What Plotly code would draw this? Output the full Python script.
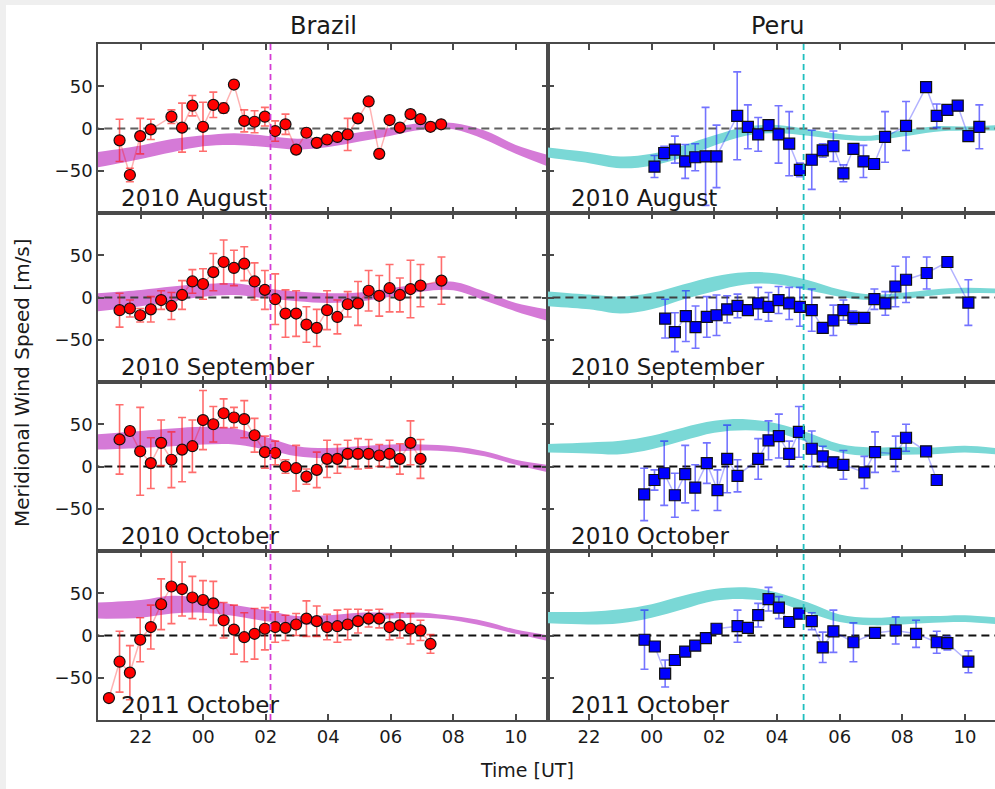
import plotly.graph_objects as go
from plotly.subplots import make_subplots

# ---------------------------------------------------------------------------
# Time axis (hours UT relative to 00 UT; 22 UT of the previous day -> -2)
hour_ticks = [-2, 0, 2, 4, 6, 8, 10]
hour_labels = ["22", "00", "02", "04", "06", "08", "10"]
value_ticks = [-50, 0, 50]
value_labels = ["\u221250", "0", "50"]

sites = ["Brazil", "Peru"]
campaigns = ["2010 August", "2010 September", "2010 October", "2011 October"]

# Local reference times marked with the vertical dashed lines
brazil_mark_time = 2.15
peru_mark_time = 4.85

# ---------------------------------------------------------------------------
# Model envelopes (upper / lower edge) sampled at band_t
band_t = [-3.4, -2, -1, 0, 1, 2, 3, 4, 5, 6, 7, 8, 9, 10, 11.1]

brazil_aug_hi = [-28, -20, -12.5, -8, -5.5, -8.5, -12, -9.5, -4.5, 1, 6.5, 6.5, -2.5, -19.5, -32]
brazil_aug_lo = [-46, -36, -28, -21, -19.5, -22, -25, -22, -15.5, -8.5, -1.5, -1, -13, -30, -46]
brazil_sep_hi = [5, 9, 13, 16, 17, 11, 7, 5, 6, 11, 16, 18.5, 7, -6.5, -14.5]
brazil_sep_lo = [-16.5, -10.5, -4.5, 1, 3, -1, -4.5, -6.5, -4.5, 1, 7, 8.5, -3.5, -16.5, -28.5]
brazil_oct_hi = [38, 42, 45, 47, 45, 35, 24, 22, 24, 26, 26, 24, 18, 8, 1.5]
brazil_oct_lo = [20, 22, 24, 26, 26, 20, 12, 10, 15, 17.5, 19, 17.5, 12, 2, -7.5]
brazil_oct11_hi = [39, 42, 47, 44, 36, 30, 23, 24, 27, 27, 27, 23, 17, 7, 0]
brazil_oct11_lo = [20, 21, 26, 27, 23, 17, 14, 13, 17, 20, 21, 18, 11, 2, -7]

peru_aug_hi = [-22, -28, -33, -30, -20, -8, 2.5, 4, -1, -6.5, -8.5, -2.5, 2.5, 2.5, 4]
peru_aug_lo = [-34, -41, -47, -44, -34, -20, -8.5, -5.5, -8.5, -13, -14.5, -9.5, -4, -2.5, -2.5]
peru_sep_hi = [7.5, 3.5, 1, 5.5, 15.5, 25, 30, 28.5, 20.5, 9.5, 3.5, 5.5, 9.5, 11.5, 10.5]
peru_sep_lo = [-10, -14, -19, -14, -2.5, 7.5, 15.5, 15.5, 8.5, 1, -3, -1.5, 2.5, 5, 5]
peru_oct_hi = [26.5, 28.5, 30.5, 36.5, 46, 54, 56, 51, 40, 26.5, 22.5, 23.5, 22.5, 24.5, 21.5]
peru_oct_lo = [16.5, 15.5, 14.5, 20.5, 30.5, 40, 43, 40, 28.5, 16.5, 12.5, 14, 14.5, 16.5, 14]
peru_oct11_hi = [28, 28, 31, 37, 47, 55, 57, 51, 39, 25, 21, 22.5, 23, 24, 21]
peru_oct11_lo = [14.5, 13, 14.5, 21, 31, 41, 43, 39, 27, 16, 12, 13, 15, 16, 13]

# ---------------------------------------------------------------------------
# Measured meridional winds: time [h], speed [m/s], uncertainty [m/s]
brazil_aug_t = [-2.68, -2.35, -2.02, -1.68, -1.02, -0.68, -0.35, -0.01, 0.32, 0.65, 0.98,
                1.31, 1.64, 1.97, 2.30, 2.63, 2.97, 3.30, 3.63, 3.96, 4.29, 4.62, 4.95,
                5.29, 5.63, 5.96, 6.29, 6.63, 6.95, 7.27, 7.61]
brazil_aug_v = [-14, -55, -9, -1, 14, 1, 27, 2, 28, 24, 52,
                9, 8, 14, -3, 5, -25, -5, -17, -13, -10, -7, 12,
                32, -30, 10, 1, 17, 11, 2, 5]
brazil_aug_e = [25, 8, 21, 12, 8, 29, 12, 29, 15, 6, 5,
                13, 13, 11, 12, 12, 5, 5, 5, 5, 5, 19, 5,
                5, 5, 5, 5, 5, 5, 5, 5]

peru_aug_t = [0.09, 0.40, 0.74, 1.07, 1.39, 1.72, 2.07, 2.73, 3.07, 3.40, 3.73, 4.05,
              4.39, 4.73, 5.11, 5.46, 5.80, 6.12, 6.44, 6.76, 7.10, 7.45, 8.12, 8.76,
              9.10, 9.44, 9.77, 10.11, 10.46]
peru_aug_v = [-45, -29, -25, -39, -34, -33, -33, 15, 2, -7, 4, -7,
              -18, -49, -37, -26, -21, -53, -24, -39, -42, -10, 3, 49,
              15, 22, 27, -9, 2]
peru_aug_e = [13, 8, 16, 20, 16, 58, 37, 52, 26, 20, 6, 34,
              38, 8, 35, 8, 18, 10, 6, 19, 6, 30, 29, 3,
              14, 4, 4, 4, 26]

brazil_sep_t = [-2.68, -2.35, -2.02, -1.68, -1.35, -1.02, -0.68, -0.35, -0.01, 0.32, 0.65,
                0.98, 1.31, 1.64, 1.97, 2.30, 2.63, 2.97, 3.30, 3.63, 3.96, 4.29, 4.62,
                4.95, 5.29, 5.63, 5.96, 6.29, 6.63, 6.95, 7.62]
brazil_sep_v = [-15, -13, -21, -14, -3, -10, 3, 19, 16, 30, 42,
                35, 40, 19, 9, -2, -19, -19, -32, -36, -15, -23, -8,
                -7, 8, 2, 11, 3, 10, 14, 20]
brazil_sep_e = [20, 10, 8, 15, 11, 16, 17, 14, 18, 22, 26,
                21, 20, 22, 23, 30, 28, 27, 21, 22, 23, 20, 15,
                26, 24, 24, 28, 20, 34, 25, 28]

peru_sep_t = [0.43, 0.74, 1.09, 1.40, 1.76, 2.07, 2.41, 2.74, 3.07, 3.40, 3.73, 4.05,
              4.39, 4.73, 5.11, 5.46, 5.80, 6.12, 6.44, 6.79, 7.11, 7.46, 7.78, 8.12,
              8.78, 9.44, 10.11]
peru_sep_v = [-25, -41, -22, -35, -23, -21, -14, -10, -15, -7, -11, -3,
              -7, -11, -15, -36, -27, -15, -24, -24, -2, -7, 13, 21,
              29, 42, -6]
peru_sep_e = [23, 23, 30, 25, 24, 24, 16, 14, 6, 19, 17, 16,
              19, 23, 25, 6, 18, 12, 8, 5, 12, 14, 24, 27,
              19, 0, 27]

brazil_oct_t = [-2.68, -2.35, -2.02, -1.68, -1.35, -1.02, -0.68, -0.35, -0.01, 0.32,
                0.65, 0.98, 1.31, 1.64, 1.97, 2.30, 2.63, 2.97, 3.30, 3.63, 3.96, 4.29,
                4.62, 4.95, 5.29, 5.63, 5.96, 6.29, 6.63, 6.95]
brazil_oct_v = [32, 42, 18, 4, 28, 8, 20, 24, 55, 50,
                63, 58, 56, 37, 17, 16, 0, -2, -12, -4, 9, 9,
                15, 15, 15, 13, 15, 9, 28, 9]
brazil_oct_e = [41, 5, 52, 30, 27, 33, 38, 31, 35, 21,
                17, 12, 22, 20, 19, 14, 8, 27, 9, 21, 22, 17,
                16, 18, 17, 13, 16, 18, 26, 23]

peru_oct_t = [-0.24, 0.09, 0.40, 0.74, 1.07, 1.39, 1.76, 2.10, 2.41, 2.74, 3.40, 3.73,
              4.06, 4.39, 4.70, 5.11, 5.46, 5.80, 6.12, 6.79, 7.13, 7.79, 8.12, 8.76, 9.10]
peru_oct_v = [-33, -16, -8, -34, -9, -25, 4, -28, 9, -11, 9, 31,
              36, 15, 41, 21, 12, 5, 2, -7, 17, 15, 34, 18, -16]
peru_oct_e = [31, 12, 38, 26, 34, 27, 24, 24, 40, 19, 24, 23,
              26, 15, 30, 21, 12, 6, 17, 19, 24, 21, 16, 0, 0]

brazil_oct11_t = [-3.02, -2.68, -2.35, -2.02, -1.68, -1.35, -1.02, -0.68, -0.35, -0.01, 0.32,
                  0.65, 0.98, 1.31, 1.64, 1.97, 2.30, 2.63, 2.97, 3.30, 3.63, 3.96, 4.29,
                  4.62, 4.95, 5.29, 5.63, 5.96, 6.29, 6.63, 6.95, 7.27]
brazil_oct11_v = [-74, -31, -44, -5, 10, 37, 58, 55, 45, 42, 38,
                  18, 7, -2, 2, 8, 10, 9, 13, 20, 17, 10, 11,
                  13, 17, 20, 20, 10, 12, 8, 6, -10]
brazil_oct11_e = [0, 36, 32, 26, 26, 30, 44, 32, 25, 23, 26,
                  21, 29, 29, 30, 25, 18, 15, 13, 21, 18, 15, 19,
                  18, 14, 10, 11, 15, 15, 18, 12, 11]

peru_oct11_t = [-0.23, 0.10, 0.43, 0.74, 1.07, 1.39, 1.73, 2.07, 2.74, 3.07, 3.40, 3.73,
                4.06, 4.39, 4.71, 5.11, 5.46, 5.80, 6.44, 7.13, 7.79, 8.44, 9.10, 9.44, 10.11]
peru_oct11_v = [-5, -13, -45, -29, -19, -12, -3, 8, 11, 9, 24, 43,
                33, 16, 26, 17, -14, 5, -8, 3, 6, 2, -8, -9, -31]
peru_oct11_e = [35, 4, 16, 3, 3, 3, 3, 3, 19, 3, 14, 14,
                13, 4, 6, 10, 18, 25, 23, 6, 16, 16, 13, 8, 13]

# ---------------------------------------------------------------------------
brazil_series = [
    (brazil_aug_t, brazil_aug_v, brazil_aug_e, brazil_aug_lo, brazil_aug_hi),
    (brazil_sep_t, brazil_sep_v, brazil_sep_e, brazil_sep_lo, brazil_sep_hi),
    (brazil_oct_t, brazil_oct_v, brazil_oct_e, brazil_oct_lo, brazil_oct_hi),
    (brazil_oct11_t, brazil_oct11_v, brazil_oct11_e, brazil_oct11_lo, brazil_oct11_hi),
]
peru_series = [
    (peru_aug_t, peru_aug_v, peru_aug_e, peru_aug_lo, peru_aug_hi),
    (peru_sep_t, peru_sep_v, peru_sep_e, peru_sep_lo, peru_sep_hi),
    (peru_oct_t, peru_oct_v, peru_oct_e, peru_oct_lo, peru_oct_hi),
    (peru_oct11_t, peru_oct11_v, peru_oct11_e, peru_oct11_lo, peru_oct11_hi),
]

style = {
    "Brazil": dict(band="#d57ad7", marker="#ff0000", symbol="circle",
                   link="rgba(255,0,0,0.30)", err="rgba(255,20,20,0.62)", mark="#d43cd4"),
    "Peru": dict(band="#7ad8d6", marker="#0000ff", symbol="square",
                 link="rgba(0,0,255,0.30)", err="rgba(30,30,255,0.62)", mark="#1fbfbf"),
}
zero_colors = ["#606060", "#404040", "#111111", "#111111"]

FONT = "DejaVu Sans"
TEXT = "#1a1a1a"
FRAME = "#4a4a4a"

fig = make_subplots(rows=4, cols=2, horizontal_spacing=0, vertical_spacing=0,
                    column_widths=[450, 447])

x_ranges = {1: [-3.37, 11.03], 2: [-3.31, 10.96]}


def axis_ref(row, col, letter):
    n = (row - 1) * 2 + col
    return f"{letter} domain" if n == 1 else f"{letter}{n} domain"


for col, (site, series) in enumerate([("Brazil", brazil_series), ("Peru", peru_series)], start=1):
    st = style[site]
    for row, (t, v, e, lo, hi) in enumerate(series, start=1):
        # model envelope
        fig.add_trace(go.Scatter(x=band_t, y=lo, mode="lines", line=dict(width=0, shape="spline", smoothing=1.0),
                                 hoverinfo="skip", showlegend=False), row=row, col=col)
        fig.add_trace(go.Scatter(x=band_t, y=hi, mode="lines", line=dict(width=0, shape="spline", smoothing=1.0),
                                 fill="tonexty", fillcolor=st["band"], hoverinfo="skip", showlegend=False),
                      row=row, col=col)
        # zero reference
        fig.add_trace(go.Scatter(x=[-4, 12], y=[0, 0], mode="lines",
                                 line=dict(color=zero_colors[row - 1], width=2, dash="8px,5px"),
                                 hoverinfo="skip", showlegend=False), row=row, col=col)
        # measurements
        fig.add_trace(go.Scatter(
            x=t, y=v, mode="lines+markers",
            line=dict(color=st["link"], width=1.5),
            marker=dict(symbol=st["symbol"], size=11, color=st["marker"],
                        line=dict(color="#111111", width=1.2)),
            error_y=dict(type="data", array=e, visible=True, color=st["err"], thickness=1.6, width=4),
            showlegend=False, name=f"{site} {campaigns[row - 1]}"), row=row, col=col)

        fig.add_annotation(text=campaigns[row - 1], xref=axis_ref(row, col, "x"), yref=axis_ref(row, col, "y"),
                           x=0.047, y=0.0, xanchor="left", yanchor="bottom", showarrow=False,
                           font=dict(family=FONT, size=23, color=TEXT))

        fig.update_xaxes(range=x_ranges[col], tickvals=hour_ticks, ticktext=hour_labels,
                         showticklabels=(row == 4), ticks="inside", ticklen=6, tickwidth=1.5,
                         tickcolor=FRAME, showline=True, linecolor=FRAME, linewidth=1.6,
                         mirror="allticks", showgrid=False, zeroline=False,
                         tickfont=dict(family=FONT, size=18, color=TEXT), row=row, col=col)
        fig.update_yaxes(range=[-100, 100], tickvals=value_ticks, ticktext=value_labels,
                         showticklabels=(col == 1), ticks="inside", ticklen=6, tickwidth=1.5,
                         tickcolor=FRAME, showline=True, linecolor=FRAME, linewidth=1.6,
                         mirror=("allticks" if col == 1 else False), showgrid=False, zeroline=False,
                         tickfont=dict(family=FONT, size=18, color=TEXT), row=row, col=col)

# vertical reference lines spanning all four rows of each column
for xref, tmark, color in [("x", brazil_mark_time, style["Brazil"]["mark"]),
                           ("x2", peru_mark_time, style["Peru"]["mark"])]:
    fig.add_shape(type="line", xref=xref, yref="paper", x0=tmark, x1=tmark, y0=0, y1=1,
                  line=dict(color=color, width=1.8, dash="6px,4px"), layer="above")

# light frame strips along the left and top page edges
W, H = 995, 789
ML, MR, MT, MB = 98, 0, 44, 69
pw, ph = W - ML - MR, H - MT - MB
fig.add_shape(type="rect", xref="paper", yref="paper", x0=-ML / pw, x1=(6 - ML) / pw,
              y0=-MB / ph, y1=(H - MB + 1) / ph, fillcolor="#efefef", line=dict(width=0), layer="below")
fig.add_shape(type="rect", xref="paper", yref="paper", x0=-ML / pw, x1=1.01,
              y0=(ph + MT - 5) / ph, y1=(ph + MT + 1) / ph, fillcolor="#efefef", line=dict(width=0), layer="below")

# column titles and axis titles
fig.add_annotation(text="Brazil", xref="paper", yref="paper", x=225 / pw, y=1, yshift=2,
                   xanchor="center", yanchor="bottom", showarrow=False,
                   font=dict(family=FONT, size=24, color=TEXT))
fig.add_annotation(text="Peru", xref="paper", yref="paper", x=(777 - ML) / pw, y=1, yshift=2,
                   xanchor="center", yanchor="bottom", showarrow=False,
                   font=dict(family=FONT, size=24, color=TEXT))
fig.add_annotation(text="Time [UT]", xref="paper", yref="paper", x=(527 - ML) / pw, y=-(770 - 720) / ph,
                   xanchor="center", yanchor="middle", showarrow=False,
                   font=dict(family=FONT, size=19, color=TEXT))
fig.add_annotation(text="Meridional Wind Speed [m/s]", xref="paper", yref="paper",
                   x=(22 - ML) / pw, y=(720 - 383) / ph, textangle=-90,
                   xanchor="center", yanchor="middle", showarrow=False,
                   font=dict(family=FONT, size=20, color=TEXT))

fig.update_layout(width=W, height=H, margin=dict(l=ML, r=MR, t=MT, b=MB),
                  paper_bgcolor="white", plot_bgcolor="white", showlegend=False,
                  font=dict(family=FONT, color=TEXT))

fig.write_html("out.html")
